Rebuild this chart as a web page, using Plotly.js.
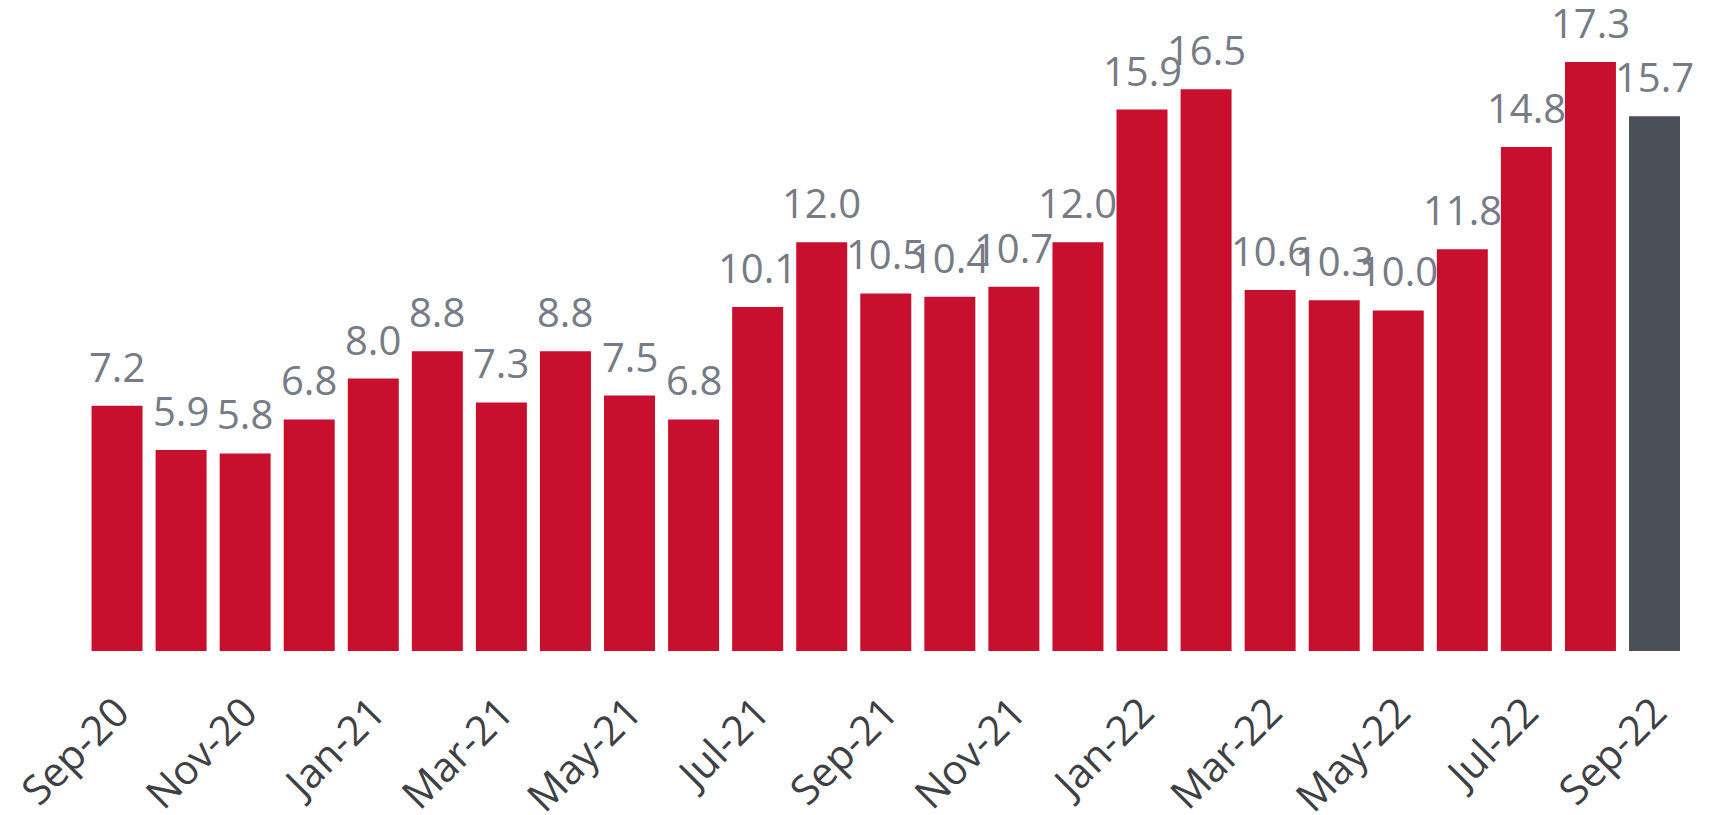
<!DOCTYPE html>
<html>
<head>
<meta charset="utf-8">
<script src="https://cdn.plot.ly/plotly-3.0.1.min.js"></script>
<style>html,body{margin:0;padding:0;background:#fff;}#chart{width:1719px;height:815px;}</style>
</head>
<body>
<div id="chart"></div>
<script>
const months = ["Sep-20","Oct-20","Nov-20","Dec-20","Jan-21","Feb-21","Mar-21","Apr-21","May-21","Jun-21","Jul-21","Aug-21","Sep-21","Oct-21","Nov-21","Dec-21","Jan-22","Feb-22","Mar-22","Apr-22","May-22","Jun-22","Jul-22","Aug-22","Sep-22"];
const values = [7.2,5.9,5.8,6.8,8.0,8.8,7.3,8.8,7.5,6.8,10.1,12.0,10.5,10.4,10.7,12.0,15.9,16.5,10.6,10.3,10.0,11.8,14.8,17.3,15.7];
const tickLabels = months.filter((m, i) => i % 2 === 0);

const RED = "#C8102E", GREY = "#4B4F57";
const colors = values.map((v, i) => i === values.length - 1 ? GREY : RED);

const trace = {
  type: "bar",
  x: months,
  y: values,
  marker: {color: colors},
  hoverinfo: "x+y"
};

const annotations = months.map((m, i) => ({
  x: m, y: values[i], xref: "x", yref: "y",
  text: values[i].toFixed(1),
  showarrow: false, yanchor: "bottom", xanchor: "center",
  yshift: 10,
  font: {family: "Open Sans, sans-serif", size: 40, color: "#767B85"}
}));

const layout = {
  width: 1719, height: 815,
  margin: {l: 84.5, r: 22.5, t: 4, b: 164},
  paper_bgcolor: "#fff", plot_bgcolor: "#fff",
  bargap: 0.204,
  showlegend: false,
  xaxis: {
    type: "category",
    tickmode: "array",
    tickvals: tickLabels,
    ticktext: tickLabels,
    tickangle: -45,
    ticks: "",
    ticklabelstandoff: 28,
    showgrid: false, zeroline: false, showline: false,
    automargin: false,
    tickfont: {family: "Open Sans, sans-serif", size: 41, color: "#3D4045"}
  },
  yaxis: {
    range: [0, 19],
    visible: false,
    automargin: false,
    showgrid: false, zeroline: false
  },
  annotations: annotations
};

Plotly.newPlot("chart", [trace], layout, {displayModeBar: false, staticPlot: true});
</script>
</body>
</html>
